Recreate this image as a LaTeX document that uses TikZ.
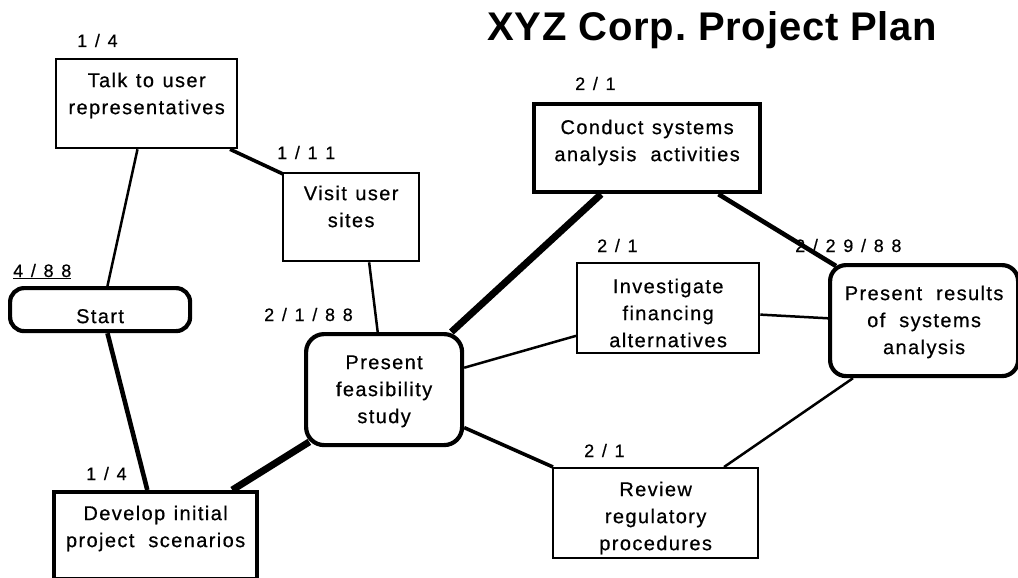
\documentclass[tikz,border=0pt]{standalone}
\usepackage{fontspec}
\setmainfont{Liberation Sans}
\newfontfamily\boxfont[LetterSpace=7,FakeBold=0.6]{Liberation Sans}
\newfontfamily\labfont[LetterSpace=15,FakeBold=0.5]{Liberation Sans}
\newfontfamily\titfont[LetterSpace=2]{Liberation Sans}
\newcommand\wsp{\hspace{8.5pt}}
\newcommand\wwsp{\hspace{14pt}}
\usetikzlibrary{calc}
\tikzset{
  task/.style={anchor=north west, align=center, inner xsep=0pt, inner ysep=0pt,
    font=\boxfont\fontsize{20}{27}\selectfont},
  thinbox/.style={task, draw, line width=2.3pt},
  thickbox/.style={task, draw, line width=4.2pt},
  lab/.style={anchor=base west, inner sep=0pt, font=\labfont\fontsize{18}{20}\selectfont},
  lnA/.style={line width=2.5pt},
  lnB/.style={line width=3.6pt},
  lnC/.style={line width=4.6pt},
  lnD/.style={line width=7pt},
}
\begin{document}
\begin{tikzpicture}[x=1pt,y=-1pt]
\useasboundingbox (0,0) rectangle (1018,578);

\node[anchor=base west, inner sep=0pt, font=\titfont\bfseries\fontsize{40}{44}\selectfont] (title) at (487,41) {XYZ Corp.\ Project Plan};

\node[thinbox, text width=181pt, text height=28pt, text depth=61pt] (talk) at (55,58) {Talk\wsp to\wsp user\\representatives};
\node[thinbox, text width=136pt, text height=27pt, text depth=61pt] (visit) at (282,172) {Visit\wsp user\\sites};
\node[thickbox, rounded corners=14pt, text width=180pt, text height=35pt, text depth=8pt] (start) at (8,286) {Start};
\node[thickbox, text width=203pt, text height=28pt, text depth=59pt] (develop) at (52,490) {Develop\wsp initial\\project\wwsp scenarios};
\node[thickbox, rounded corners=18pt, text width=156pt, text height=35pt, text depth=76pt] (pf) at (304,332) {Present\\feasibility\\study};
\node[thickbox, text width=226pt, text height=30pt, text depth=58pt] (conduct) at (532,102) {Conduct\wsp systems\\analysis\wwsp activities};
\node[thinbox, text width=182pt, text height=30pt, text depth=60pt] (invest) at (576,262) {Investigate\\financing\\alternatives};
\node[thickbox, rounded corners=16pt, text width=188pt, text height=35pt, text depth=76pt] (pr) at (828,263) {Present\wwsp results\\of\wwsp systems\\analysis};
\node[thinbox, text width=205pt, text height=28pt, text depth=62pt] (review) at (552,467) {Review\\regulatory\\procedures};

% connectors
\draw[lnA] ($(talk.south west)!0.45!(talk.south east)$) -- ($(start.north west)!0.54!(start.north east)$);
\draw[lnB] ($(talk.south west)!0.955!(talk.south east)$) -- ($(visit.north west)+(1,2)$);
\draw[lnC] ($(start.south west)!0.54!(start.south east)$) -- ($(develop.north west)!0.46!(develop.north east)$);
\draw[lnA] ($(visit.south west)!0.63!(visit.south east)$) -- ($(pf.north west)!0.46!(pf.north east)$);
\draw[lnD] ($(develop.north west)!0.87!(develop.north east)$) -- ($(pf.south west)+(5.3,-5.3)$);
\draw[lnD] ($(pf.north west)!0.92!(pf.north east)$) -- ($(conduct.south west)!0.30!(conduct.south east)$);
\draw[lnA] ($(pf.north east)!0.31!(pf.south east)$) -- ($(invest.north west)!0.8!(invest.south west)$);
\draw[lnB] ($(pf.north east)!0.83!(pf.south east)$) -- ($(review.north west)+(1,0)$);
\draw[lnC] ($(conduct.south west)!0.81!(conduct.south east)$) -- ($(pr.north west)+(8,3)$);
\draw[lnA] ($(invest.north east)!0.57!(invest.south east)$) -- ($(pr.north west)!0.48!(pr.south west)$);
\draw[lnA] ($(pr.south west)!0.13!(pr.south east)$) -- ($(review.north west)!0.83!(review.north east)$);

% date labels
\node[lab] (d1) at (77,47) {1 / 4};
\node[lab] (d2) at (277,159) {1 / 1 1};
\node[lab] (d3) at (13,277) {\underline{4 / 8 8}};
\node[lab] (d4) at (264,321) {2 / 1 / 8 8};
\node[lab] (d5) at (86,480) {1 / 4};
\node[lab] (d6) at (575,90) {2 / 1};
\node[lab] (d7) at (597,252) {2 / 1};
\node[lab] (d8) at (795,252) {2 / 2 9 / 8 8};
\node[lab] (d9) at (584,457) {2 / 1};
\end{tikzpicture}
\end{document}
